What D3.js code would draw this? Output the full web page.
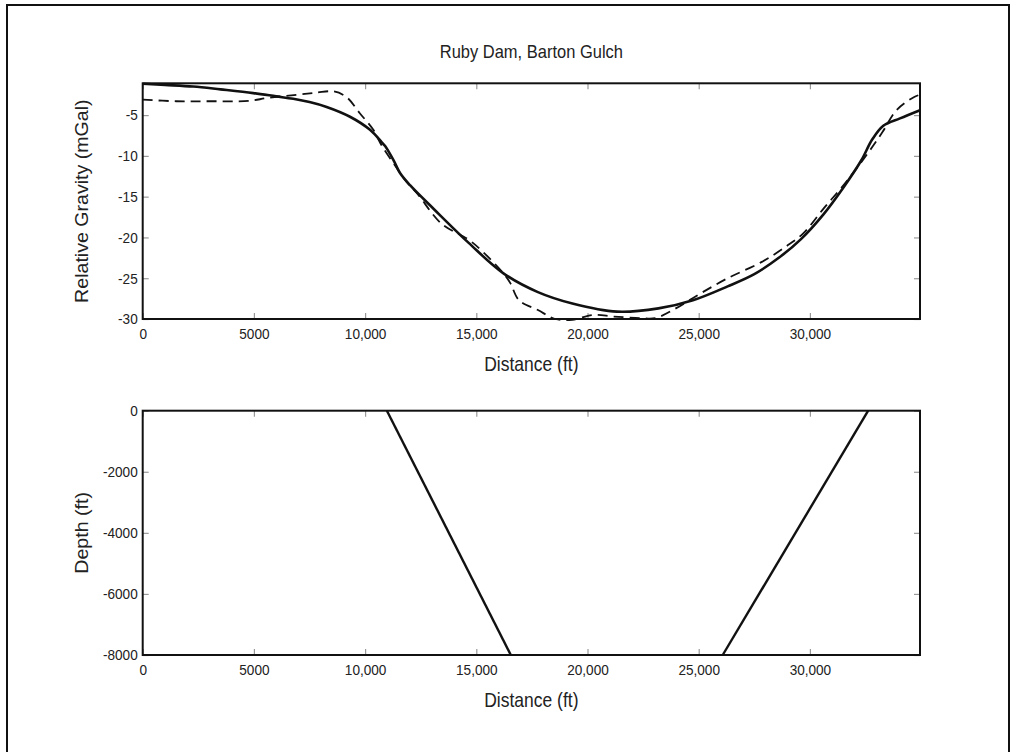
<!DOCTYPE html>
<html>
<head>
  <meta charset="utf-8">
  <title>Ruby Dam, Barton Gulch</title>
  <script src="https://d3js.org/d3.v7.min.js"></script>
  <style>
    body { margin: 0; background: #fff; }
    text { font-family: "Liberation Sans", Arial, sans-serif; fill: #222; }
  </style>
</head>
<body>
<script>
    // observed gravity (dashed line)
    var obsDistance = [0, 1500, 3000, 4800, 5600, 6800, 7800, 8600, 9170, 9770, 10370, 10740, 11300, 11870,
        12340, 13430, 14670, 15290, 16220, 16530, 16920, 17770, 18550, 19320, 20250, 21180, 22420, 23040,
        23970, 25060, 26300, 27840, 28930, 29700, 30630, 31570, 32650, 33270, 33890, 34670, 34950]
    var obsGravity = [-3.1, -3.3, -3.3, -3.25, -2.9, -2.55, -2.25, -2.1, -2.8, -4.8, -6.8, -8.7, -11.0, -13.2,
        -14.6, -18.3, -20.3, -21.75, -24.4, -25.6, -27.7, -28.9, -30.0, -30.1, -29.5, -29.7, -29.9, -29.9,
        -28.7, -26.9, -25.0, -23.0, -21.1, -19.5, -16.4, -13.4, -9.5, -7.05, -4.4, -2.8, -2.5]

    // calculated gravity (solid line)
    var calcDistance = [0, 1000, 2270, 3500, 4970, 6000, 6770, 7500, 8270, 9320, 10220, 10740, 10900, 11270,
        11570, 12020, 13120, 14670, 16220, 17770, 19320, 21330, 23190, 24740, 26300, 27500, 28600, 29600,
        30600, 31500, 32300, 32800, 33300, 34050, 34950]
    var calcGravity = [-1.15, -1.3, -1.5, -1.85, -2.3, -2.7, -3.0, -3.4, -4.0, -5.2, -6.8, -8.3, -8.8, -10.5,
        -12.1, -13.6, -16.6, -20.7, -24.4, -26.7, -28.1, -29.1, -28.7, -27.7, -26.0, -24.5, -22.5, -20.2,
        -17.2, -13.9, -10.6, -8.0, -6.3, -5.4, -4.4]

    // basin walls (depth model)
    var leftWallDistance = [10980, 16550]
    var rightWallDistance = [32620, 26080]
    var wallDepth = [0, -8000]

    var distanceTicks = [0, 5000, 10000, 15000, 20000, 25000, 30000]
    var gravityTicks = [-5, -10, -15, -20, -25, -30]
    var depthTicks = [0, -2000, -4000, -6000, -8000]

    var W = 1013, H = 752
    var left = 142.7, right = 920
    var top1 = 83.3, bottom1 = 319
    var top2 = 410.7, bottom2 = 655
    var stretch = 1.12   // the source text is a little taller than it is wide

    var svg = d3.select("body").append("svg")
        .attr("width", W).attr("height", H)

    // page frame
    svg.append("rect")
        .attr("x", 7).attr("y", 5).attr("width", 1002).attr("height", 800)
        .attr("fill", "none").attr("stroke", "#111").attr("stroke-width", 2)

    svg.append("text")
        .attr("transform", "translate(" + (left + right) / 2 + ",58) scale(1," + stretch + ")")
        .attr("text-anchor", "middle").attr("font-size", "16.5px")
        .text("Ruby Dam, Barton Gulch")

    var x = d3.scaleLinear().domain([0, 34950]).range([left, right])
    var yGrav = d3.scaleLinear().domain([-30, -1.1]).range([bottom1, top1])
    var yDepth = d3.scaleLinear().domain([-8000, 0]).range([bottom2, top2])

    function fmt(d) { return Math.abs(d) >= 10000 ? d3.format(",")(d) : String(d) }

    function drawFrame(y, yTicks, top, bottom, yLabel) {
        var g = svg.append("g")
        var tick = 6

        // bottom axis with labels
        var gx = g.append("g").attr("transform", "translate(0," + bottom + ")")
            .call(d3.axisBottom(x).tickValues(distanceTicks).tickSize(-tick).tickPadding(9).tickFormat(fmt))
        gx.selectAll(".tick text").attr("y", 9 / stretch)
        // top axis, ticks only
        g.append("g").attr("transform", "translate(0," + top + ")")
            .call(d3.axisTop(x).tickValues(distanceTicks).tickSize(-tick).tickFormat(""))
        // left axis with labels
        g.append("g").attr("transform", "translate(" + left + ",0)")
            .call(d3.axisLeft(y).tickValues(yTicks).tickSize(-tick).tickPadding(5).tickFormat(fmt))
        // right axis, ticks only
        g.append("g").attr("transform", "translate(" + right + ",0)")
            .call(d3.axisRight(y).tickValues(yTicks).tickSize(-tick).tickFormat(""))

        g.selectAll(".domain").remove()
        g.selectAll(".tick line").attr("stroke", "#999").attr("stroke-width", 1.2)
        g.selectAll(".tick text").attr("font-size", "13.6px").attr("fill", "#222")
            .attr("transform", "scale(1," + stretch + ")")
            .style("font-family", "'Liberation Sans', Arial, sans-serif")

        g.append("rect")
            .attr("x", left).attr("y", top).attr("width", right - left).attr("height", bottom - top)
            .attr("fill", "none").attr("stroke", "#111").attr("stroke-width", 2)

        svg.append("text")
            .attr("transform", "translate(" + (left + right) / 2 + "," + (bottom + 52) + ") scale(1," + stretch + ")")
            .attr("text-anchor", "middle").attr("font-size", "17.5px")
            .text("Distance (ft)")

        svg.append("text")
            .attr("transform", "translate(88," + (top + bottom) / 2 + ") rotate(-90) scale(" + stretch + ",1)")
            .attr("text-anchor", "middle").attr("font-size", "17.5px")
            .text(yLabel)
    }

    drawFrame(yGrav, gravityTicks, top1, bottom1, "Relative Gravity (mGal)")
    drawFrame(yDepth, depthTicks, top2, bottom2, "Depth (ft)")

    var gravLine = d3.line()
        .x(function(d) { return x(d[0]) })
        .y(function(d) { return yGrav(d[1]) })
        .curve(d3.curveCatmullRom.alpha(0.5))

    svg.append("path")
        .datum(d3.zip(obsDistance, obsGravity))
        .attr("d", gravLine)
        .attr("fill", "none").attr("stroke", "#111").attr("stroke-width", 1.8)
        .attr("stroke-dasharray", "10,6")

    svg.append("path")
        .datum(d3.zip(calcDistance, calcGravity))
        .attr("d", gravLine)
        .attr("fill", "none").attr("stroke", "#111").attr("stroke-width", 2.6)

    var depthLine = d3.line()
        .x(function(d) { return x(d[0]) })
        .y(function(d) { return yDepth(d[1]) })

    ;[leftWallDistance, rightWallDistance].forEach(function(xs) {
        svg.append("path")
            .datum(d3.zip(xs, wallDepth))
            .attr("d", depthLine)
            .attr("fill", "none").attr("stroke", "#111").attr("stroke-width", 2.4)
    })
</script>
</body>
</html>
